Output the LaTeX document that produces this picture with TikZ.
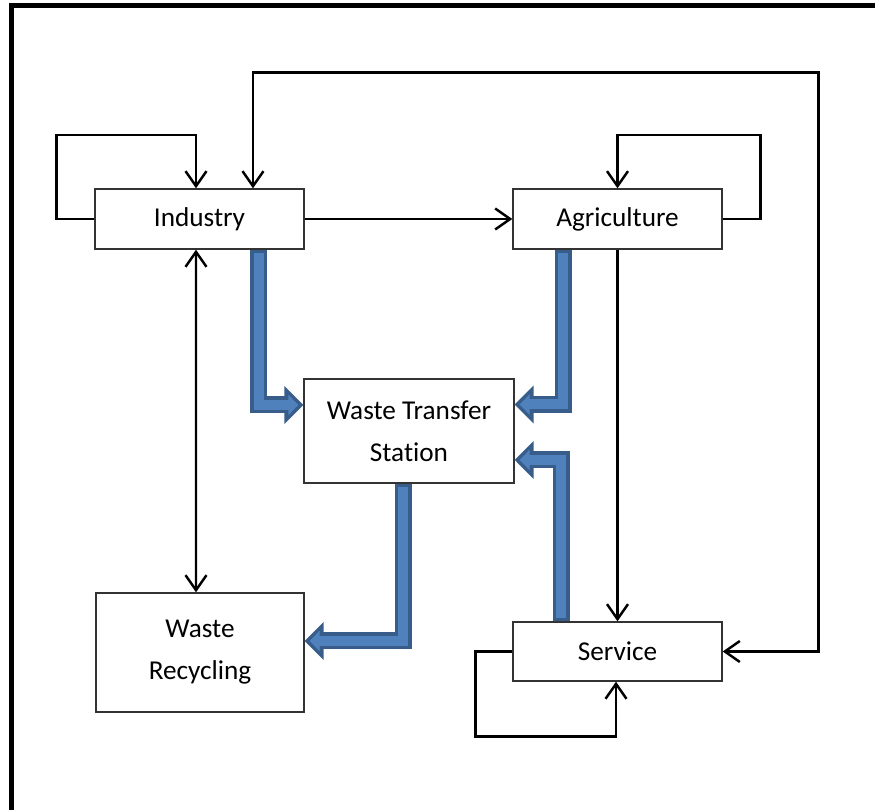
\documentclass[tikz,border=0pt]{standalone}
\usepackage{fontspec}
\setmainfont{Carlito}[Ligatures=NoCommon]
\usetikzlibrary{arrows.meta, calc}
\definecolor{flowfill}{RGB}{79,129,189}
\definecolor{flowedge}{RGB}{56,93,138}
\tikzstyle{sector} = [rectangle, draw=black!80, line width=0.8pt, fill=white, align=center, font=\fontsize{15.5}{24}\selectfont]
\tikzstyle{arrow} = [line width=1.4pt, ->, >={Straight Barb[length=0.3cm,width=0.42cm]}]
\tikzstyle{flow} = [line width=0.2cm, draw=flowfill, -{Triangle[length=0.2cm,width=0.4cm]}, shorten >=0.1cm, shorten <=0.06cm, preaction={draw=flowedge, line width=0.34cm, shorten >=0pt, shorten <=0pt, -{Triangle[length=0.38cm,width=0.74cm]}}]

\begin{document}
\begin{tikzpicture}[x=0.02cm, y=0.02cm]
                \useasboundingbox (0,0) rectangle (875,810);
                \draw [line width=0.1cm] (11.5,0) |- (875,804.5);

                \node (ind) [sector, minimum width=4.18cm, minimum height=1.2cm] at (199.5,591) {Industry};
                \node (agr) [sector, minimum width=4.18cm, minimum height=1.2cm] at (617.5,591) {Agriculture};
                \node (wts) [sector, minimum width=4.2cm, minimum height=2.08cm] at (409,379) {Waste Transfer\\Station};
                \node (wr) [sector, minimum width=4.16cm, minimum height=2.38cm] at (200,157.5) {Waste\\Recycling};
                \node (ser) [sector, minimum width=4.18cm, minimum height=1.18cm] at (617.5,158.5) {Service};

                \draw [arrow] (ind.west) -- ++(-38,0) -- ++(0,84) -| ([xshift=-0.07cm]ind.north);
                \draw [arrow, <->] ([xshift=1.07cm]ind.north) -- ++(0,116) -| ($(ser.east)+(96,0)$) -- (ser.east);
                \draw [arrow] (ind.east) -- (agr.west);
                \draw [arrow] (agr.east) -- ++(38,0) -- ++(0,84) -| (agr.north);
                \draw [arrow, <->] ([xshift=-0.07cm]ind.south) -- ([xshift=-0.08cm]wr.north);
                \draw [arrow] (agr.south) -- (ser.north);
                \draw [arrow] (ser.west) -- ++(-37,0) -- ++(0,-85) -| ([xshift=-0.03cm]ser.south);

                \draw [flow] ([xshift=1.19cm]ind.south) |- ([yshift=0.52cm]wts.west);
                \draw [flow] ([xshift=-1.09cm]agr.south) |- ([yshift=0.53cm]wts.east);
                \draw [flow] ([xshift=-1.13cm]ser.north) |- ([yshift=-0.58cm]wts.east);
                \draw [flow] ([xshift=-0.12cm]wts.south) |- ([yshift=0.23cm]wr.east);
            \end{tikzpicture}
\end{document}
